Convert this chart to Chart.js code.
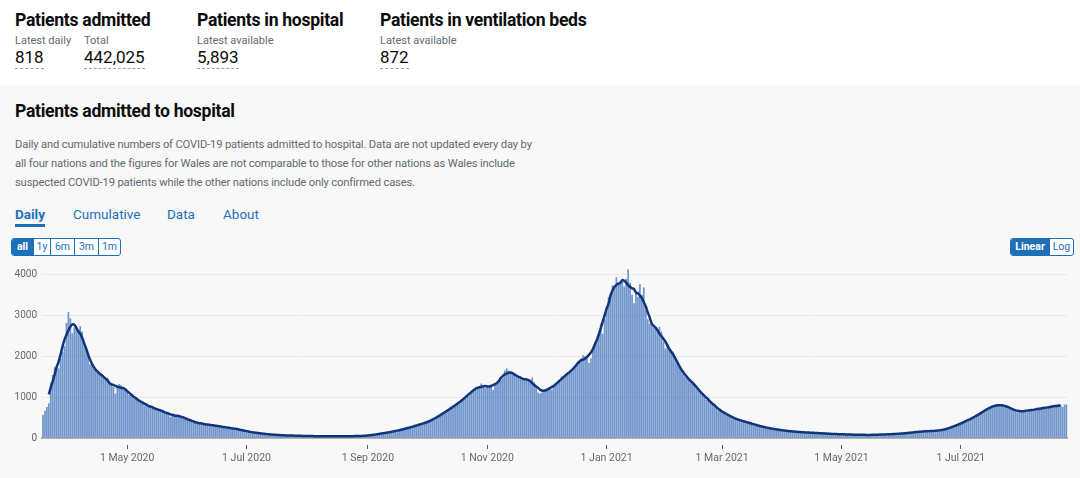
<!DOCTYPE html>
<html>
<head>
<meta charset="utf-8">
<script src="https://cdn.jsdelivr.net/npm/chart.js@4.4.1/dist/chart.umd.min.js"></script>
<style>
  html, body { margin: 0; padding: 0; background: #fff; }
  body { width: 1080px; height: 478px; overflow: hidden; position: relative;
         font-family: Roboto, "Noto Sans", sans-serif; color: #0b0c0c; }
  .abs { position: absolute; white-space: nowrap; }
  .h1 { font-size: 17.6px; font-weight: 700; letter-spacing: -0.3px; line-height: 20px; }
  .sub { font-size: 11px; color: #626a6e; line-height: 14px; }
  .num { font-size: 17px; line-height: 18px; border-bottom: 1px dashed #9a9fa3; padding-bottom: 2px; }
  .panel { position: absolute; left: 0; top: 85px; width: 1080px; height: 393px; background: #f8f8f8; }
  .desc { font-size: 11.2px; letter-spacing: -0.15px; color: #626a6e; line-height: 19px; }
  .tab { font-size: 13.5px; color: #1d70b8; line-height: 18px; }
  .btns { position: absolute; display: flex; border: 1px solid #1d70b8; border-radius: 3px; overflow: hidden; background: #fff; }
  .btns div { font-size: 10.5px; color: #1d70b8; text-align: center; line-height: 16px; border-left: 1px solid #1d70b8; }
  .btns div:first-child { border-left: none; }
  .btns .on { background: #1d70b8; color: #fff; font-weight: 700; }
  #wrap { position: absolute; left: 0; top: 242px; width: 1080px; height: 236px; }
</style>
</head>
<body>
<div class="abs h1" style="left:15px;top:10px;">Patients admitted</div>
<div class="abs sub" style="left:15px;top:34px;">Latest daily</div>
<div class="abs sub" style="left:84px;top:34px;">Total</div>
<div class="abs num" style="left:15px;top:48px;">818</div>
<div class="abs num" style="left:84px;top:48px;">442,025</div>

<div class="abs h1" style="left:197px;top:10px;">Patients in hospital</div>
<div class="abs sub" style="left:197px;top:34px;">Latest available</div>
<div class="abs num" style="left:197px;top:48px;">5,893</div>

<div class="abs h1" style="left:380px;top:10px;">Patients in ventilation beds</div>
<div class="abs sub" style="left:380px;top:34px;">Latest available</div>
<div class="abs num" style="left:380px;top:48px;">872</div>

<div class="panel"></div>
<div class="abs h1" style="left:15px;top:101px;">Patients admitted to hospital</div>
<div class="abs desc" style="left:15px;top:135px;">Daily and cumulative numbers of COVID-19 patients admitted to hospital. Data are not updated every day by<br>all four nations and the figures for Wales are not comparable to those for other nations as Wales include<br>suspected COVID-19 patients while the other nations include only confirmed cases.</div>

<div class="abs tab" style="left:15px;top:205px;font-weight:700;">Daily</div>
<div class="abs" style="left:15px;top:224px;width:30px;height:3px;background:#1d70b8;"></div>
<div class="abs tab" style="left:73px;top:205px;">Cumulative</div>
<div class="abs tab" style="left:167px;top:205px;">Data</div>
<div class="abs tab" style="left:223px;top:205px;">About</div>

<div class="btns" style="left:11px;top:238px;">
  <div class="on" style="width:21px;">all</div>
  <div style="width:16px;">1y</div>
  <div style="width:23px;">6m</div>
  <div style="width:23px;">3m</div>
  <div style="width:21px;">1m</div>
</div>
<div class="btns" style="left:1010px;top:238px;">
  <div class="on" style="width:38px;">Linear</div>
  <div style="width:23px;">Log</div>
</div>

<div id="wrap"><canvas id="chart"></canvas></div>

<script>
// daily admissions from 19 Mar 2020, one row per week
const admissions = [
  560, 665, 760, 850, 1350, 1540, 1730,
  1780, 1700, 1950, 2100, 2250, 2810, 3081,
  2920, 2560, 2700, 2720, 2650, 2730, 2600,
  2300, 2150, 2020, 1800, 1780, 1700, 1660,
  1620, 1540, 1560, 1470, 1420, 1470, 1380,
  1300, 1250, 1090, 1270, 1320, 1290, 1250,
  1210, 1130, 1050, 1080, 1010, 1000, 970,
  920, 880, 830, 790, 850, 800, 760,
  740, 700, 720, 680, 660, 690, 640,
  620, 600, 520, 580, 560, 540, 550,
  530, 510, 520, 480, 470, 430, 420,
  370, 390, 380, 350, 340, 360, 330,
  340, 320, 310, 300, 310, 290, 300,
  280, 270, 260, 250, 240, 260, 230,
  230, 220, 210, 190, 200, 180, 160,
  160, 150, 140, 130, 125, 120, 115,
  110, 100, 95, 90, 88, 82, 80,
  76, 72, 68, 70, 65, 62, 64,
  60, 58, 62, 56, 54, 55, 52,
  50, 48, 52, 47, 45, 48, 44,
  42, 45, 40, 43, 41, 44, 40,
  42, 39, 44, 41, 38, 42, 40,
  43, 41, 45, 42, 46, 44, 48,
  47, 50, 52, 49, 55, 58, 62,
  70, 78, 86, 95, 102, 110, 118,
  125, 132, 140, 150, 160, 170, 178,
  190, 200, 210, 225, 235, 248, 262,
  280, 295, 310, 320, 335, 350, 365,
  380, 400, 420, 440, 470, 500, 530,
  560, 590, 620, 650, 680, 710, 740,
  780, 810, 850, 880, 920, 950, 990,
  1050, 1090, 1150, 1180, 1200, 1230, 1250,
  1330, 1260, 1220, 1280, 1250, 1300, 1180,
  1310, 1350, 1390, 1420, 1480, 1650, 1700,
  1640, 1600, 1540, 1560, 1500, 1520, 1480,
  1450, 1420, 1400, 1380, 1410, 1480, 1360,
  1240, 1110, 1090, 1120, 1170, 1180, 1210,
  1220, 1180, 1260, 1300, 1350, 1400, 1500,
  1480, 1520, 1560, 1600, 1650, 1700, 1740,
  1780, 1860, 1940, 2020, 2000, 1980, 1830,
  1950, 2150, 2300, 2400, 2600, 2800, 2550,
  2900, 3200, 3450, 3500, 3730, 3650, 3930,
  3770, 3800, 3810, 3700, 3890, 4114, 3800,
  3500, 3290, 3570, 3450, 3756, 3500, 3675,
  3120, 2900, 2800, 2790, 2700, 2650, 2634,
  2715, 2600, 2350, 2187, 2300, 2200, 2150,
  2106, 1950, 1850, 1740, 1700, 1577, 1500,
  1500, 1450, 1400, 1350, 1300, 1250, 1180,
  1120, 1080, 1020, 927, 980, 900, 860,
  800, 724, 683, 690, 650, 620, 600,
  570, 540, 480, 500, 470, 450, 440,
  420, 410, 398, 380, 370, 350, 340,
  320, 310, 300, 285, 270, 260, 250,
  245, 235, 225, 215, 205, 200, 195,
  190, 180, 175, 170, 165, 160, 155,
  150, 148, 145, 140, 138, 135, 132,
  130, 128, 125, 124, 120, 118, 115,
  112, 110, 105, 102, 100, 98, 95,
  92, 95, 90, 88, 90, 86, 85,
  82, 84, 80, 78, 80, 76, 78,
  75, 77, 74, 76, 73, 78, 80,
  82, 85, 84, 88, 90, 86, 92,
  95, 98, 100, 104, 106, 110, 112,
  118, 122, 128, 132, 140, 145, 150,
  155, 158, 162, 165, 168, 170, 172,
  172, 175, 178, 182, 188, 198, 210,
  225, 240, 255, 275, 295, 315, 335,
  355, 375, 400, 420, 440, 470, 500,
  510, 540, 570, 600, 630, 660, 700,
  730, 750, 770, 790, 800, 820, 810,
  820, 780, 790, 770, 750, 715, 690,
  650, 620, 660, 640, 670, 680, 650,
  660, 690, 700, 680, 710, 720, 740,
  720, 740, 730, 760, 750, 780, 790,
  810, 780, 800, 760, 820, 818
];
const startDate = Date.UTC(2020, 2, 19);
const monthNames = ['Jan', 'Feb', 'Mar', 'Apr', 'May', 'Jun', 'Jul', 'Aug', 'Sep', 'Oct', 'Nov', 'Dec'];
const tickLabels = ['1 May 2020', '1 Jul 2020', '1 Sep 2020', '1 Nov 2020',
                    '1 Jan 2021', '1 Mar 2021', '1 May 2021', '1 Jul 2021'];
const yTicks = [0, 1000, 2000, 3000, 4000];

const dates = admissions.map(function(v, i) {
  const d = new Date(startDate + i * 86400000);
  return d.getUTCDate() + ' ' + monthNames[d.getUTCMonth()] + ' ' + d.getUTCFullYear();
});

// centred 7 day average
const rollingAvg = admissions.map(function(v, i) {
  if (i < 3 || i > admissions.length - 4) return null;
  let sum = 0;
  for (let k = i - 3; k <= i + 3; k++) sum += admissions[k];
  return sum / 7;
});

Chart.defaults.font.family = 'Roboto, "Noto Sans", sans-serif';

const ctx = document.getElementById('chart').getContext('2d');
new Chart(ctx, {
  data: {
    labels: dates,
    datasets: [
      {
        type: 'line',
        label: 'Rolling average',
        data: rollingAvg,
        borderColor: '#12357a',
        borderWidth: 2.5,
        pointRadius: 0,
        tension: 0.2,
        order: 0
      }, {
        type: 'bar',
        label: 'Patients admitted',
        data: admissions,
        backgroundColor: 'rgba(38, 96, 178, 0.64)',
        barPercentage: 0.9,
        categoryPercentage: 1,
        order: 1
      }
    ]
  },
  options: {
    responsive: true,
    maintainAspectRatio: false,
    animation: false,
    layout: { padding: { top: 20, right: 12.5, left: 0, bottom: 0 } },
    plugins: { legend: { display: false }, tooltip: { enabled: false } },
    scales: {
      x: {
        type: 'category',
        offset: true,
        border: { display: true, color: '#b1b4b6', width: 2 },
        grid: {
          drawOnChartArea: false,
          offset: false,
          tickLength: 11,
          tickColor: '#505a5f',
          tickWidth: 1,
          tickBorderDash: [0, 6, 5, 10]
        },
        ticks: {
          autoSkip: false,
          maxRotation: 0,
          padding: 3,
          color: '#626a6e',
          font: { size: 10.5 },
          callback: function(value) {
            const lab = this.getLabelForValue(value);
            return tickLabels.indexOf(lab) >= 0 ? lab : null;
          }
        },
        afterFit: function(scale) { scale.height = 40; }
      },
      y: {
        min: 0,
        max: 4300,
        border: { display: false },
        grid: { color: '#e9e9e9', drawTicks: false },
        ticks: {
          padding: 5,
          color: '#626a6e',
          font: { size: 10 },
          includeBounds: false,
          callback: function(value) { return String(value); }
        },
        afterBuildTicks: function(scale) {
          scale.ticks = yTicks.map(function(v) { return { value: v }; });
        },
        afterFit: function(scale) { scale.width = 42; }
      }
    }
  }
});
</script>
</body>
</html>
